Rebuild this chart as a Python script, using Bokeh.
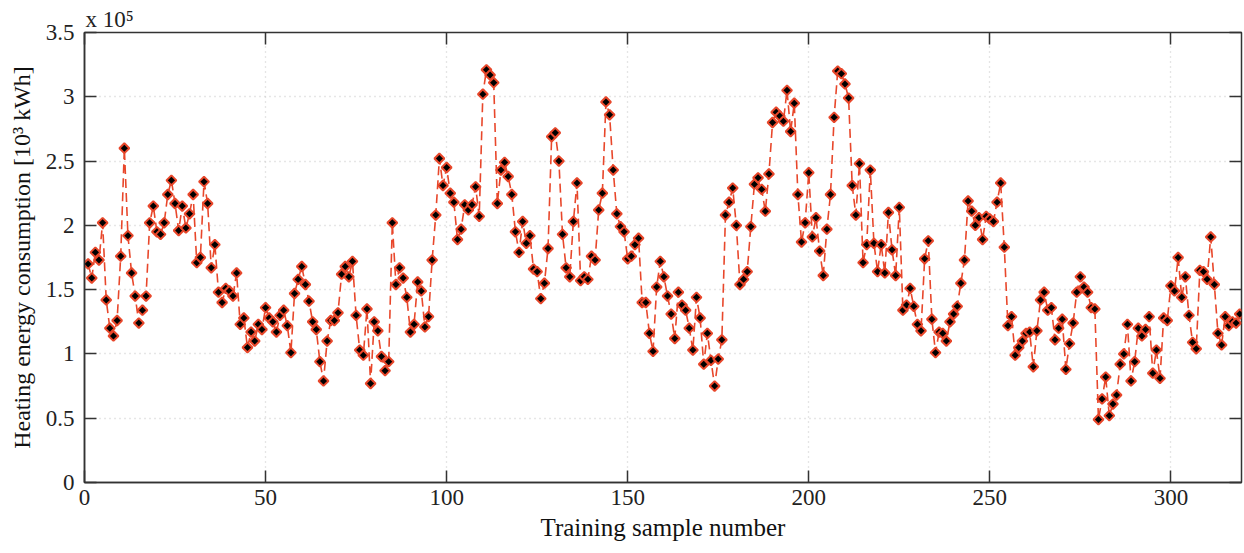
from bokeh.plotting import figure
from bokeh.models import Range1d, FixedTicker, LinearAxis, NumeralTickFormatter, Title
from bokeh.embed import file_html
from bokeh.resources import INLINE

# ---- data (heating energy consumption, in units of 10^5 x 10^3 kWh as plotted) ----
consumption = [
    1.70, 1.59, 1.79, 1.73, 2.02, 1.42, 1.20, 1.14, 1.26, 1.76,
    2.60, 1.92, 1.63, 1.45, 1.24, 1.34, 1.45, 2.02, 2.15, 1.95,
    1.93, 2.02, 2.24, 2.35, 2.17, 1.96, 2.15, 1.98, 2.09, 2.24,
    1.71, 1.75, 2.34, 2.17, 1.67, 1.85, 1.48, 1.40, 1.51, 1.49,
    1.45, 1.63, 1.23, 1.28, 1.05, 1.17, 1.10, 1.23, 1.19, 1.36,
    1.28, 1.25, 1.17, 1.30, 1.34, 1.22, 1.01, 1.47, 1.58, 1.68,
    1.54, 1.41, 1.25, 1.19, 0.94, 0.79, 1.10, 1.26, 1.26, 1.32,
    1.62, 1.68, 1.60, 1.72, 1.30, 1.03, 0.99, 1.35, 0.77, 1.25,
    1.18, 0.98, 0.87, 0.94, 2.02, 1.54, 1.67, 1.59, 1.44, 1.17,
    1.23, 1.56, 1.49, 1.21, 1.29, 1.73, 2.08, 2.52, 2.31, 2.45,
    2.25, 2.18, 1.89, 1.97, 2.16, 2.12, 2.16, 2.30, 2.07, 3.02,
    3.21, 3.17, 3.11, 2.17, 2.43, 2.49, 2.38, 2.24, 1.95, 1.79,
    2.03, 1.86, 1.92, 1.66, 1.64, 1.43, 1.55, 1.82, 2.69, 2.72,
    2.50, 1.93, 1.67, 1.60, 2.03, 2.33, 1.57, 1.60, 1.58, 1.76,
    1.73, 2.12, 2.25, 2.96, 2.86, 2.43, 2.09, 1.99, 1.95, 1.74,
    1.76, 1.85, 1.90, 1.40, 1.40, 1.16, 1.02, 1.52, 1.72, 1.60,
    1.45, 1.31, 1.12, 1.48, 1.38, 1.34, 1.20, 1.03, 1.44, 1.28,
    0.92, 1.16, 0.95, 0.75, 0.96, 1.11, 2.08, 2.18, 2.29, 2.00,
    1.54, 1.58, 1.64, 1.99, 2.32, 2.37, 2.28, 2.11, 2.40, 2.80,
    2.88, 2.85, 2.81, 3.05, 2.73, 2.95, 2.24, 1.87, 2.02, 2.41,
    1.91, 2.06, 1.80, 1.61, 1.97, 2.24, 2.84, 3.20, 3.18, 3.10,
    2.99, 2.31, 2.08, 2.48, 1.71, 1.85, 2.43, 1.86, 1.64, 1.85,
    1.63, 2.10, 1.81, 1.61, 2.14, 1.34, 1.38, 1.51, 1.37, 1.23,
    1.18, 1.74, 1.88, 1.27, 1.01, 1.17, 1.16, 1.10, 1.25, 1.31,
    1.37, 1.55, 1.73, 2.19, 2.11, 2.00, 2.06, 1.89, 2.07, 2.05,
    2.03, 2.18, 2.33, 1.83, 1.22, 1.29, 0.99, 1.05, 1.10, 1.16,
    1.17, 0.90, 1.18, 1.42, 1.48, 1.34, 1.36, 1.11, 1.20, 1.27,
    0.88, 1.08, 1.24, 1.48, 1.60, 1.52, 1.48, 1.36, 1.35, 0.49,
    0.65, 0.82, 0.52, 0.61, 0.68, 0.92, 1.00, 1.23, 0.79, 0.94,
    1.20, 1.14, 1.19, 1.29, 0.85, 1.03, 0.81, 1.28, 1.26, 1.53,
    1.49, 1.75, 1.44, 1.60, 1.30, 1.09, 1.04, 1.65, 1.64, 1.58,
    1.91, 1.54, 1.16, 1.07, 1.29, 1.22, 1.25, 1.24, 1.31,
]
sample_number = list(range(1, len(consumption) + 1))

x_ticks = [0, 50, 100, 150, 200, 250, 300]
y_ticks = [0, 0.5, 1, 1.5, 2, 2.5, 3, 3.5]
exponent_text = "x 10\u2075"

FONT = "Liberation Serif"
AXIS_COLOR = "#333333"
LINE_COLOR = "#E8472B"

p = figure(width=1243, height=548,
           x_range=Range1d(0, 319.5), y_range=Range1d(0, 3.5),
           output_backend="svg", toolbar_location=None,
           min_border_left=84, min_border_top=32, min_border_bottom=66,
           min_border_right=2)
p.title = Title(text=exponent_text, align="left", offset=1, standoff=1,
                text_font=FONT, text_font_size="23px", text_font_style="normal",
                text_color="#222222")
p.background_fill_color = "white"
p.border_fill_color = "white"
p.outline_line_color = AXIS_COLOR
p.outline_line_width = 1.5

# grids
p.xgrid.ticker = FixedTicker(ticks=x_ticks)
p.ygrid.ticker = FixedTicker(ticks=y_ticks)
for g in (p.xgrid, p.ygrid):
    g.grid_line_color = "#cccccc"
    g.grid_line_dash = "1 4"
    g.grid_line_width = 1.3

# main axes
p.xaxis.ticker = FixedTicker(ticks=x_ticks)
p.yaxis.ticker = FixedTicker(ticks=y_ticks)
p.yaxis.formatter = NumeralTickFormatter(format="0.[0]")
for ax in (p.xaxis, p.yaxis):
    ax.axis_line_color = AXIS_COLOR
    ax.axis_line_width = 1.5
    ax.major_tick_line_color = AXIS_COLOR
    ax.major_tick_line_width = 1.5
    ax.major_tick_in = 12
    ax.major_tick_out = 0
    ax.minor_tick_line_color = None
    ax.major_label_text_font = FONT
    ax.major_label_text_font_size = "23px"
    ax.major_label_text_color = "#222222"
    ax.axis_label_text_font = FONT
    ax.axis_label_text_font_style = "normal"
    ax.axis_label_text_color = "#111111"
p.xaxis.axis_label_text_font_size = "25px"
p.yaxis.axis_label_text_font_size = "24px"
p.xaxis.axis_label = "Training sample number"
p.yaxis.axis_label = "Heating energy consumption [10\u00b3 kWh]"
p.xaxis.major_label_standoff = 7
p.yaxis.major_label_standoff = 10
p.xaxis.axis_label_standoff = 6
p.yaxis.axis_label_standoff = 8

# mirrored tick-only axes (top and right), no labels drawn
top_ax = LinearAxis(ticker=FixedTicker(ticks=x_ticks), axis_line_color=None,
                    major_tick_in=12, major_tick_out=0, major_tick_line_color=AXIS_COLOR,
                    major_tick_line_width=1.5, minor_tick_line_color=None,
                    major_label_text_font_size="0px", major_label_text_color=None,
                    major_label_standoff=0)
right_ax = LinearAxis(ticker=FixedTicker(ticks=y_ticks), axis_line_color=None,
                      major_tick_in=12, major_tick_out=0, major_tick_line_color=AXIS_COLOR,
                      major_tick_line_width=1.5, minor_tick_line_color=None,
                      major_label_text_font_size="0px", major_label_text_color=None,
                      major_label_standoff=0)
p.add_layout(top_ax, "above")
p.add_layout(right_ax, "right")

# series
p.line(sample_number, consumption, line_color=LINE_COLOR, line_width=1.6, line_dash="9 5")
p.scatter(sample_number, consumption, marker="square", angle=0.7853981634, size=7,
          fill_color="black", line_color=LINE_COLOR, line_width=2)

open("out.html", "w").write(file_html(p, INLINE))
